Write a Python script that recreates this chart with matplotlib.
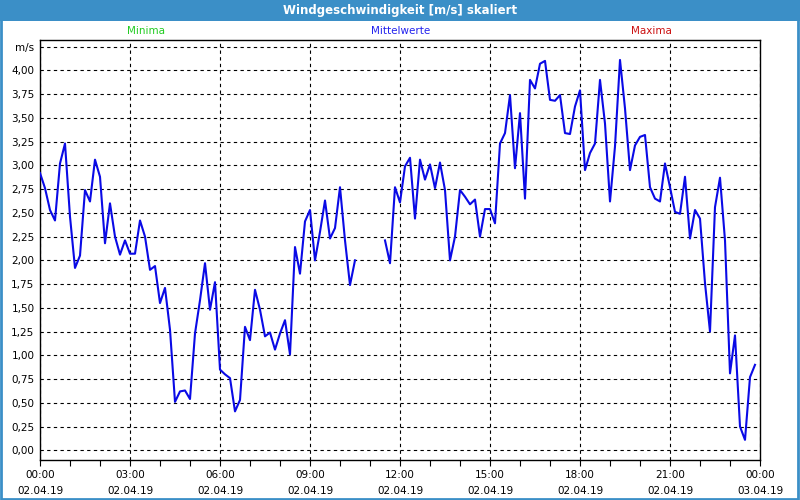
import numpy as np
import pandas as pd
import matplotlib
matplotlib.use("Agg")
import matplotlib.pyplot as plt
import matplotlib.dates as mdates
from matplotlib.patches import Rectangle

# ---- data -------------------------------------------------------------
title = "Windgeschwindigkeit [m/s] skaliert"
legend_labels = ["Minima", "Mittelwerte", "Maxima"]
legend_colors = ["#22cc22", "#2222ee", "#cc1111"]

start_time = "2019-04-02 00:00"
interval = "10min"
wind_speed = [
    2.92, 2.76, 2.53, 2.42, 3.02, 3.23, 2.46, 1.92, 2.05, 2.74,
    2.62, 3.06, 2.88, 2.18, 2.60, 2.25, 2.06, 2.21, 2.07, 2.07,
    2.42, 2.25, 1.90, 1.94, 1.55, 1.71, 1.27, 0.51, 0.62, 0.63,
    0.54, 1.23, 1.58, 1.97, 1.48, 1.77, 0.85, 0.80, 0.76, 0.41,
    0.53, 1.30, 1.16, 1.69, 1.48, 1.20, 1.24, 1.06, 1.23, 1.37,
    1.01, 2.14, 1.86, 2.41, 2.53, 2.00, 2.30, 2.63, 2.23, 2.34,
    2.77, 2.21, 1.74, 2.00, np.nan, np.nan, np.nan, np.nan, np.nan, 2.21,
    1.97, 2.77, 2.61, 2.99, 3.08, 2.44, 3.06, 2.85, 3.01, 2.76,
    3.03, 2.74, 2.00, 2.25, 2.74, 2.67, 2.59, 2.64, 2.25, 2.54,
    2.54, 2.39, 3.23, 3.34, 3.74, 2.97, 3.55, 2.65, 3.90, 3.81,
    4.07, 4.10, 3.69, 3.68, 3.74, 3.34, 3.33, 3.62, 3.79, 2.95,
    3.13, 3.23, 3.90, 3.44, 2.62, 3.20, 4.11, 3.60, 2.95, 3.21,
    3.30, 3.32, 2.77, 2.65, 2.62, 3.02, 2.77, 2.51, 2.49, 2.88,
    2.23, 2.53, 2.44, 1.76, 1.25, 2.56, 2.87, 2.21, 0.81, 1.21,
    0.25, 0.11, 0.77, 0.90,
]

x_tick_times = ["2019-04-02 00:00", "2019-04-02 03:00", "2019-04-02 06:00",
                "2019-04-02 09:00", "2019-04-02 12:00", "2019-04-02 15:00",
                "2019-04-02 18:00", "2019-04-02 21:00", "2019-04-03 00:00"]
x_tick_labels = ["00:00\n02.04.19", "03:00\n02.04.19", "06:00\n02.04.19",
                 "09:00\n02.04.19", "12:00\n02.04.19", "15:00\n02.04.19",
                 "18:00\n02.04.19", "21:00\n02.04.19", "00:00\n03.04.19"]
y_ticks = [0.0, 0.25, 0.5, 0.75, 1.0, 1.25, 1.5, 1.75, 2.0, 2.25, 2.5,
           2.75, 3.0, 3.25, 3.5, 3.75, 4.0, 4.25]
y_unit = "m/s"

# ---- figure -----------------------------------------------------------
plt.rcParams['font.family'] = ['DejaVu Sans']
fig = plt.figure(figsize=(8, 5), dpi=100)
fig.patch.set_facecolor("white")

frame_blue = "#3b8fc7"
# title bar
fig.patches.append(Rectangle((0, 1 - 21 / 500), 1, 21 / 500, transform=fig.transFigure,
                             facecolor=frame_blue, edgecolor="none", zorder=0))
# outer border
fig.patches.append(Rectangle((0.0015, 0.002), 0.996, 0.996, transform=fig.transFigure,
                             facecolor="none", edgecolor=frame_blue, linewidth=2.0, zorder=0))
fig.text(0.5, 1 - 10.5 / 500, title, color="white", fontsize=8.5, fontweight="bold",
         ha="center", va="center")

for lbl, col, xp in zip(legend_labels, legend_colors, [146, 401, 651]):
    fig.text(xp / 800, 1 - 31 / 500, lbl, color=col, fontsize=7.5, ha="center", va="center")

ax = fig.add_axes([40 / 800, 40 / 500, 720 / 800, 420 / 500])

times = pd.date_range(start_time, periods=len(wind_speed), freq=interval)
ax.plot(times, wind_speed, color="#0a0ae6", linewidth=1.5, zorder=3)

tick_pos = pd.to_datetime(x_tick_times)
ax.set_xlim(tick_pos[0], tick_pos[-1])
ax.set_ylim(-0.102, 4.32)

ax.set_xticks(tick_pos)
ax.set_xticklabels(x_tick_labels, fontsize=7.5, linespacing=1.7)
ax.xaxis.set_minor_locator(mdates.HourLocator(interval=1))
ax.tick_params(axis="x", which="both", direction="out", length=4, width=0.8, pad=3.5,
               colors="black")

ax.set_yticks(y_ticks)
ylabels = [f"{v:.2f}".replace(".", ",") for v in y_ticks]
ylabels[-1] = y_unit
ax.set_yticklabels(ylabels, fontsize=7.5)
ax.tick_params(axis="y", which="both", length=0, pad=4)

ax.grid(True, which="major", color="black", linestyle=(0, (3, 3)), linewidth=0.8)
for s in ax.spines.values():
    s.set_color("black")
    s.set_linewidth(1.0)

fig.savefig("out.png", dpi=100, facecolor=fig.get_facecolor())
